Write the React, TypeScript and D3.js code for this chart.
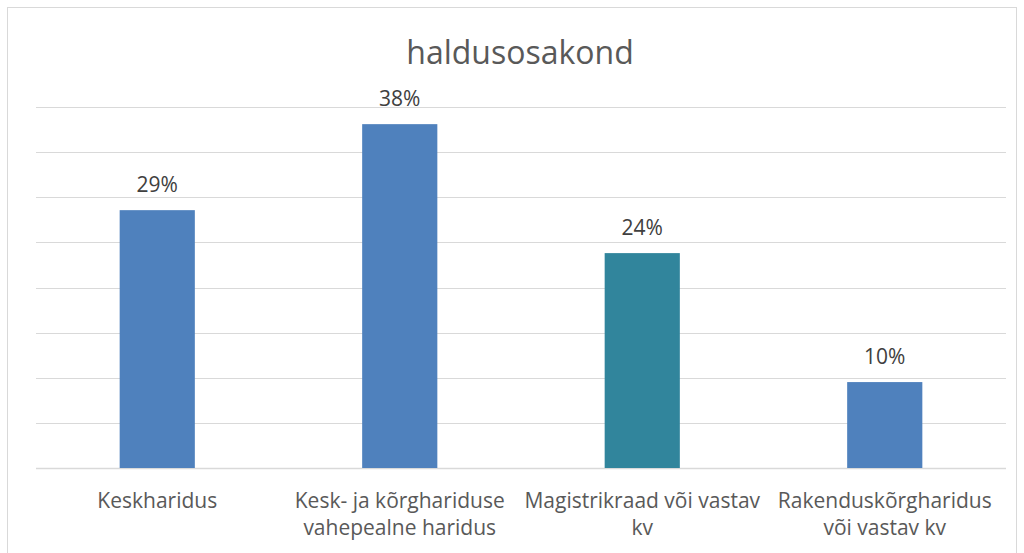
import React from "react";
import * as d3 from "d3";

const categories = [
  ["Keskharidus"],
  ["Kesk- ja kõrghariduse", "vahepealne haridus"],
  ["Magistrikraad või vastav", "kv"],
  ["Rakenduskõrgharidus", "või vastav kv"],
];
const values = [28.57, 38.1, 23.81, 9.52];
const labels = ["29%", "38%", "24%", "10%"];
const colors = ["#4F81BD", "#4F81BD", "#31859C", "#4F81BD"];
const yTicks = [0, 5, 10, 15, 20, 25, 30, 35, 40];
const title = "haldusosakond";

export default function App() {
  const W = 1024, H = 553;
  const left = 36, right = 1006, top = 107, bottom = 468;
  const x = d3.scaleBand<number>().domain(d3.range(values.length)).range([left, right]).paddingInner(0.69).paddingOuter(0.345);
  const y = d3.scaleLinear().domain([0, 40]).range([bottom, top]);
  const font = "'Open Sans', sans-serif";
  return (
    <svg width={W} height={H} style={{ position: "absolute", left: 0, top: 0 }} fontFamily={font}>
      <rect x={0} y={0} width={W} height={H} fill="#fff" />
      <rect x={7.5} y={7.5} width={1009} height={560} fill="#fff" stroke="#d9d9d9" strokeWidth={1} />
      {yTicks.map((t) => (
        <line key={t} x1={left} x2={right} y1={Math.round(y(t)) + 0.5} y2={Math.round(y(t)) + 0.5} stroke="#d9d9d9" strokeWidth={t === 0 ? 1.5 : 1} />
      ))}
      {values.map((v, i) => (
        <g key={i}>
          <rect x={x(i)} y={y(v)} width={x.bandwidth()} height={bottom - y(v)} fill={colors[i]} />
          <text x={x(i)! + x.bandwidth() / 2} y={y(v) - 18} textAnchor="middle" fontSize={21} fill="#404040">{labels[i]}</text>
        </g>
      ))}
      {categories.map((lines, i) => (
        <text key={i} x={x(i)! + x.bandwidth() / 2} y={508} textAnchor="middle" fontSize={21} fill="#595959">
          {lines.map((l, j) => (
            <tspan key={j} x={x(i)! + x.bandwidth() / 2} dy={j === 0 ? 0 : 27}>{l}</tspan>
          ))}
        </text>
      ))}
      <text x={520} y={64} textAnchor="middle" fontSize={32} fill="#595959">{title}</text>
    </svg>
  );
}
